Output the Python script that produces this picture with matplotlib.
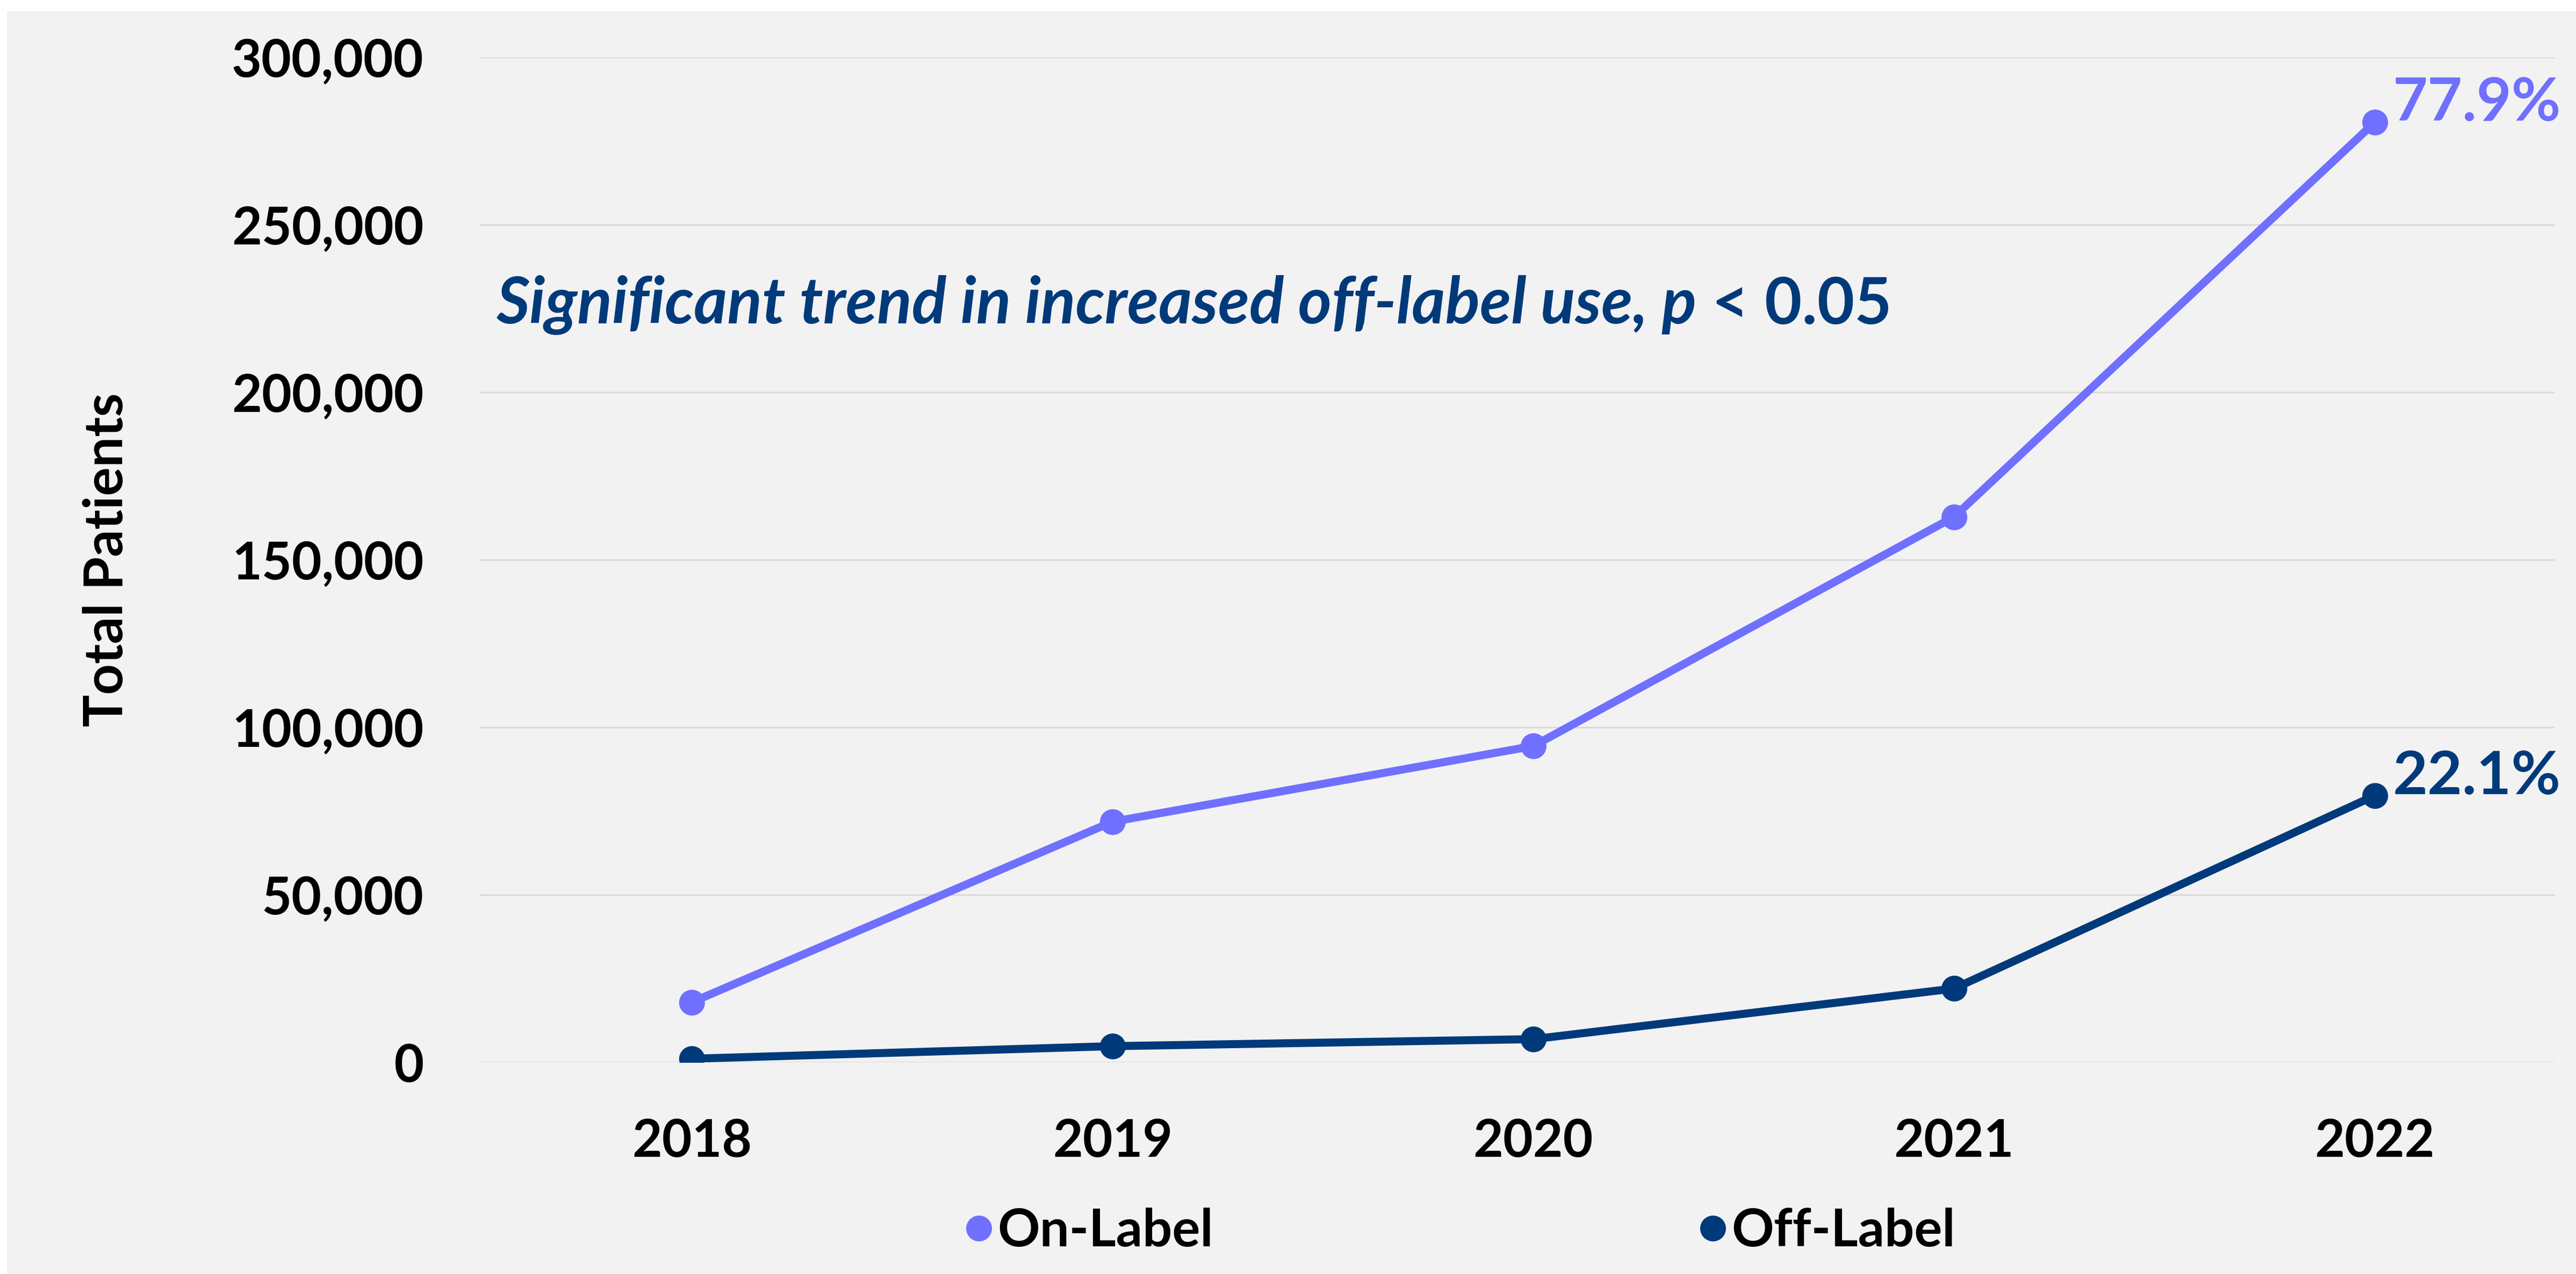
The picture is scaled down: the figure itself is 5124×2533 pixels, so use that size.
"""Total patients per year, on-label vs off-label use.

Writes out.png (5124 x 2533).
"""

import matplotlib

matplotlib.use("Agg")
import matplotlib.pyplot as plt  # noqa: E402
from matplotlib.lines import Line2D  # noqa: E402
from matplotlib.patches import Rectangle  # noqa: E402
from matplotlib.ticker import FuncFormatter  # noqa: E402

years = ["2018", "2019", "2020", "2021", "2022"]
on_label = [17900, 71800, 94400, 162800, 280600]
off_label = [1050, 4800, 6900, 22000, 79600]
share_labels = ["77.9%", "22.1%"]
series_names = ["On-Label", "Off-Label"]
y_ticks = [0, 50000, 100000, 150000, 200000, 250000, 300000]

ON_COLOR, OFF_COLOR = "#7070FF", "#003A7A"
BG, GRID = "#F2F2F2", "#D9D9D9"

plt.rcParams["font.family"] = ["Lato", "DejaVu Sans"]

W, H = 5124, 2533
fig = plt.figure(figsize=(W / 100, H / 100), dpi=100, facecolor="white")
fig.patches.append(Rectangle((14 / W, 0), 1, 1 - 22 / H, transform=fig.transFigure,
                             facecolor=BG, edgecolor="none", zorder=-10))

ax = fig.add_axes([954 / W, 1 - 2112 / H, (5082 - 954) / W, (2112 - 114) / H])
ax.set_facecolor("none")
for s in ax.spines.values():
    s.set_visible(False)

x = list(range(len(years)))
for vals, color, name in [(on_label, ON_COLOR, series_names[0]),
                          (off_label, OFF_COLOR, series_names[1])]:
    ax.plot(x, vals, color=color, lw=11.5, marker="o", ms=36, zorder=3,
            solid_capstyle="round", label=name)

# share of 2022 total next to the last point
for vals, color, txt in [(on_label, ON_COLOR, share_labels[0]),
                         (off_label, OFF_COLOR, share_labels[1])]:
    ax.annotate(txt, (x[-1], vals[-1]), xytext=(26, 2), textcoords="offset points",
                ha="left", va="baseline", fontsize=86, fontweight="bold",
                color=color, zorder=4, annotation_clip=False)

ax.set_xlim(-0.504, 4.428)
ax.set_ylim(0, 300000)
ax.set_xticks(x, years)
ax.set_yticks(y_ticks)
ax.yaxis.set_major_formatter(FuncFormatter(lambda v, _: f"{int(v):,}"))
ax.tick_params(length=0, labelsize=74, pad=80)
for lab in ax.get_xticklabels() + ax.get_yticklabels():
    lab.set_fontweight("bold")
ax.grid(axis="y", color=GRID, lw=2.2, zorder=0)
ax.set_axisbelow(True)

ax.set_ylabel("Total Patients", fontsize=77, fontweight="bold")
ax.yaxis.set_label_coords((262 - 954) / (5082 - 954), 0.5)

t1 = ax.text(-0.504 + (987 - 954) / 837, 226000,
             "Significant trend in increased off-label use, p",
             fontsize=92, fontweight="bold", style="italic", color=OFF_COLOR,
             ha="left", va="center")
ax.annotate(" < 0.05", xy=(1, 0), xycoords=t1, ha="left", va="bottom",
            fontsize=92, fontweight="bold", color=OFF_COLOR)

handles = [Line2D([], [], color=c, marker="o", ms=36, lw=0)
           for c in (ON_COLOR, OFF_COLOR)]
fig.legend(handles, series_names, loc="center", ncol=2,
           bbox_to_anchor=(2905 / W, 1 - 2448 / H), frameon=False,
           handlelength=0.5, handletextpad=0.1, columnspacing=9.3,
           prop={"weight": "bold", "size": 75})

fig.savefig("out.png", dpi=100, facecolor="white")
